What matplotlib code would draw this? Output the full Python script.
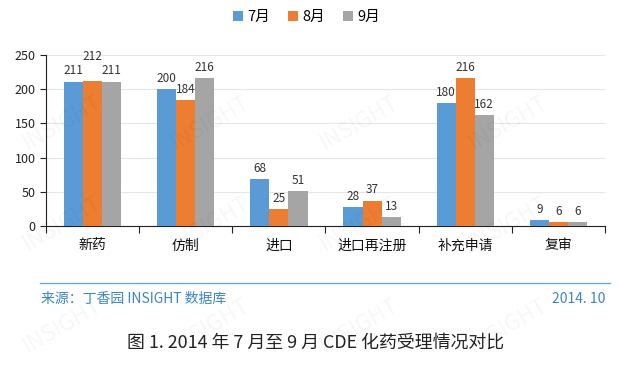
import numpy as np
import matplotlib.pyplot as plt

plt.rcParams['font.family'] = ['Noto Sans CJK SC', 'DejaVu Sans']

# categories and monthly counts
categories = ['新药', '仿制', '进口', '进口再注册', '补充申请', '复审']
months = ['7月', '8月', '9月']
jul = [211, 200, 68, 28, 180, 9]
aug = [212, 184, 25, 37, 216, 6]
sep = [211, 216, 51, 13, 162, 6]
colors = ['#5B9BD5', '#ED7D31', '#A5A5A5']

fig = plt.figure(figsize=(6.19, 3.76), dpi=100)
fig.patch.set_facecolor('white')

# faint watermark
for wx in np.arange(0.03, 0.85, 0.24):
    for wy in np.arange(0.05, 0.85, 0.27):
        fig.text(wx, wy, 'INSIGHT', rotation=30, fontsize=16, color='#000000',
                 alpha=0.035, ha='left', va='bottom')

ax = fig.add_axes([0.0743, 0.399, 0.903, 0.455])
x = np.arange(len(categories))
w = 0.205
series = [jul, aug, sep]
for i, (vals, c) in enumerate(zip(series, colors)):
    bars = ax.bar(x + (i - 1) * w, vals, w, color=c, label=months[i], zorder=3)
    for k, (b, v) in enumerate(zip(bars, vals)):
        off = 3
        # lift the middle label when its neighbours are at nearly the same height
        if i == 1 and abs(v - jul[k]) < 12 and abs(v - sep[k]) < 12 and v > 20:
            off = 13
        ax.annotate(str(v), (b.get_x() + b.get_width() / 2, v), xytext=(0, off),
                    textcoords='offset points', ha='center', va='bottom',
                    fontsize=8.5, color='#333333')

ax.set_xlim(-0.5, len(categories) - 0.5)
ax.set_ylim(0, 250)
ax.set_yticks(range(0, 251, 50))
ax.yaxis.grid(True, color='#E6E6E6', linewidth=0.8, zorder=0)
ax.set_xticks(np.arange(-0.5, len(categories), 1), minor=False)
ax.set_xticklabels([])
ax.set_xticks(x, minor=True)
ax.set_xticklabels(categories, minor=True, fontsize=10, color='#111111')
ax.tick_params(axis='x', which='minor', length=0, pad=9)
ax.tick_params(axis='x', which='major', length=5, direction='out', color='#222222')
ax.tick_params(axis='y', length=4, direction='out', labelsize=9, colors='#222222')
for s in ['top', 'right']:
    ax.spines[s].set_visible(False)
ax.spines['left'].set_color('#222222')
ax.spines['bottom'].set_color('#222222')

leg = fig.legend(loc='center', bbox_to_anchor=(0.495, 0.955), ncol=3, frameon=False,
                 fontsize=10.5, handlelength=0.7, handleheight=0.7, handletextpad=0.3,
                 columnspacing=1.2)

# footer
fig.add_artist(plt.Line2D([0.065, 0.985], [1 - 283 / 376, 1 - 283 / 376],
                          color='#6AA8DB', linewidth=1))
fig.text(0.066, 1 - 299 / 376, '来源：丁香园 INSIGHT 数据库', fontsize=10,
         color='#3A86C8', va='center', ha='left')
fig.text(0.978, 1 - 299 / 376, '2014. 10', fontsize=10, color='#3A86C8',
         va='center', ha='right')
fig.text(0.51, 1 - 343 / 376, '图 1. 2014 年 7 月至 9 月 CDE 化药受理情况对比',
         fontsize=12.9, color='#222222', va='center', ha='center')

fig.savefig('out.png', dpi=100, facecolor='white')
